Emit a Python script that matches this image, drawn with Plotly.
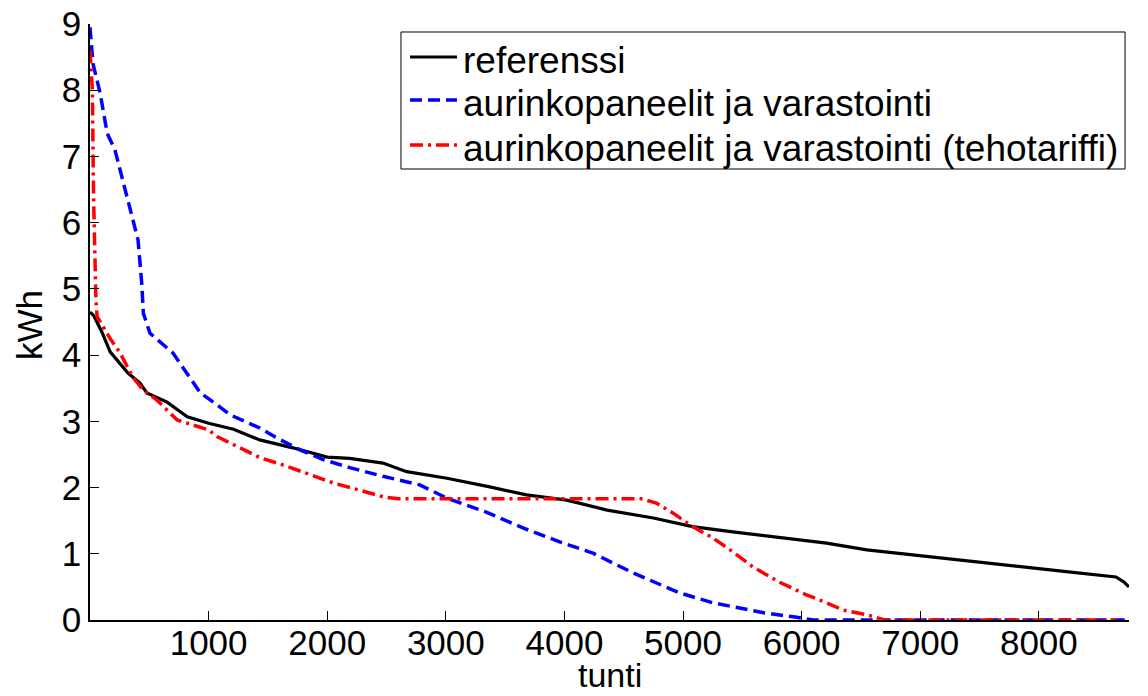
import plotly.graph_objects as go

ref_hours = [0, 30, 100, 170, 320, 420, 480, 650, 820, 1000, 1210, 1430, 1710, 2000, 2190, 2470, 2670, 3010, 3370, 3680, 4020, 4360, 4750, 5080, 5420, 5820, 6210, 6550, 7110, 7670, 8230, 8650, 8720, 8760]
ref_kwh = [4.65, 4.6, 4.35, 4.05, 3.73, 3.58, 3.43, 3.29, 3.07, 2.97, 2.88, 2.72, 2.6, 2.46, 2.44, 2.37, 2.24, 2.14, 2.01, 1.89, 1.81, 1.66, 1.54, 1.41, 1.33, 1.24, 1.16, 1.06, 0.95, 0.83, 0.73, 0.65, 0.57, 0.5]

pv_hours = [0, 25, 85, 145, 210, 280, 360, 405, 436, 450, 506, 650, 700, 815, 930, 1040, 1180, 1430, 1575, 1770, 1970, 2190, 2470, 2780, 3010, 3340, 3650, 3960, 4240, 4580, 4970, 5250, 5680, 5960, 6100, 8760]
pv_kwh = [8.95, 8.4, 7.96, 7.35, 7.1, 6.6, 6.04, 5.74, 5.09, 4.63, 4.33, 4.12, 4.03, 3.73, 3.43, 3.29, 3.1, 2.9, 2.75, 2.57, 2.42, 2.3, 2.17, 2.04, 1.84, 1.63, 1.39, 1.18, 1.01, 0.71, 0.41, 0.26, 0.11, 0.04, 0, 0]

tariff_hours = [0, 20, 30, 40, 50, 60, 145, 170, 255, 360, 450, 565, 735, 1000, 1070, 1265, 1435, 1630, 1855, 2050, 2275, 2470, 2600, 4660, 4780, 4920, 5080, 5250, 5420, 5590, 5815, 6040, 6210, 6350, 6550, 6700, 8650]
tariff_kwh = [8.6, 8.0, 6.4, 5.5, 4.83, 4.58, 4.33, 4.25, 4.03, 3.67, 3.47, 3.32, 3.02, 2.87, 2.77, 2.6, 2.45, 2.34, 2.19, 2.07, 1.96, 1.86, 1.83, 1.83, 1.76, 1.61, 1.41, 1.24, 1.03, 0.8, 0.57, 0.38, 0.26, 0.15, 0.08, 0, 0]

x_ticks = [1000, 2000, 3000, 4000, 5000, 6000, 7000, 8000]
y_ticks = [0, 1, 2, 3, 4, 5, 6, 7, 8, 9]

names = ["referenssi", "aurinkopaneelit ja varastointi", "aurinkopaneelit ja varastointi (tehotariffi)"]
x_title = "tunti"
y_title = "kWh"

FONT = "Liberation Sans, Arial, sans-serif"
styles = [
    dict(color="#000000", width=3.2),
    dict(color="#0000ff", width=3.5, dash="12px,6px"),
    dict(color="#ff0000", width=3.5, dash="13px,5px,3px,5px"),
]

fig = go.Figure()
for xs, ys, nm, st in zip([ref_hours, pv_hours, tariff_hours],
                          [ref_kwh, pv_kwh, tariff_kwh], names, styles):
    fig.add_trace(go.Scatter(x=xs, y=ys, mode="lines", name=nm, line=st))

# MATLAB-style legend box (tight row spacing), drawn in paper coordinates
box = dict(x0=0.2993, x1=0.9962, y0=0.7567, y1=0.9866)
row_y = [0.9446, 0.8725, 0.7970]
sample_x = (0.3080, 0.3532)
text_x = 0.3571

shapes = [dict(type="rect", xref="paper", yref="paper", line=dict(color="black", width=1),
               fillcolor="white", layer="above", **box)]
annotations = []
for ry, nm, st in zip(row_y, names, styles):
    shapes.append(dict(type="line", xref="paper", yref="paper", layer="above",
                       x0=sample_x[0], x1=sample_x[1], y0=ry, y1=ry,
                       line=dict(color=st["color"], width=st["width"], dash=st.get("dash", "solid"))))
    annotations.append(dict(text=nm, xref="paper", yref="paper", x=text_x, y=ry - 0.006,
                            xanchor="left", yanchor="middle", showarrow=False,
                            font=dict(family=FONT, size=37, color="black")))

annotations.append(dict(text=x_title, xref="paper", yref="paper", x=0.5, y=-0.1275,
                        xanchor="center", yanchor="bottom", showarrow=False,
                        font=dict(family=FONT, size=34)))
annotations.append(dict(text=y_title, xref="paper", yref="paper", x=-0.0577, y=0.495,
                        xanchor="center", yanchor="middle", showarrow=False, textangle=-90,
                        font=dict(family=FONT, size=35)))

fig.update_layout(
    width=1148, height=696,
    margin=dict(l=90, r=19, t=24, b=76),
    paper_bgcolor="white", plot_bgcolor="white",
    font=dict(family=FONT, size=34, color="black"),
    showlegend=False,
    xaxis=dict(range=[0, 8760], tickvals=x_ticks, ticks="inside", ticklen=9,
               tickcolor="black", showline=True, linecolor="black", linewidth=1.5,
               showgrid=False, zeroline=False, tickfont=dict(size=35),
               ticklabelstandoff=-9, automargin=False),
    yaxis=dict(range=[0, 9], tickvals=y_ticks, ticks="inside", ticklen=9,
               tickcolor="black", showline=True, linecolor="black", linewidth=1.5,
               showgrid=False, zeroline=False, tickfont=dict(size=35),
               automargin=False),
    shapes=shapes,
    annotations=annotations,
)

fig.write_html("out.html", config={"displayModeBar": False},
               post_script="document.body.style.margin='0';")
